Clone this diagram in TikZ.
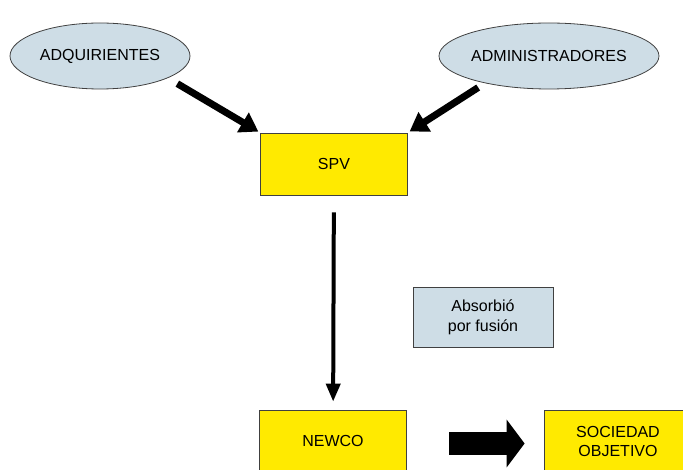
\documentclass[tikz,border=0pt]{standalone}
\usepackage{fontspec}
\setmainfont{Liberation Sans}
\usetikzlibrary{arrows.meta,shapes.geometric}
\definecolor{amarillo}{RGB}{255,234,0}
\definecolor{celeste}{RGB}{206,221,230}
\definecolor{borde}{RGB}{64,64,64}

\begin{document}
\begin{tikzpicture}[x=1pt,y=1pt,font=\fontsize{16}{19}\selectfont,
    elipse/.style={ellipse,draw=borde,fill=celeste,line width=0.8pt,
      minimum width=180pt,minimum height=66pt,inner sep=0pt},
    caja/.style={draw=borde,fill=amarillo,line width=0.8pt,align=center,
      minimum width=147pt,minimum height=62pt,inner sep=0pt},
    gruesa/.style={line width=7pt,-{Triangle[length=18pt,width=22pt]}},
    fina/.style={line width=4pt,-{Triangle[length=18pt,width=14pt]}},
    bloque/.style={line width=23pt,-{Triangle[length=18pt,width=47pt]}}]
      \useasboundingbox (0,0) rectangle (683,469);
      \node[elipse] (adq) at (100,413) {ADQUIRIENTES};
      \node[elipse] (adm) at (549,413) {ADMINISTRADORES};
      \node[caja] (spv) at (334,305) {SPV};
      \node[caja] (newco) at (333,28) {NEWCO};
      \node[caja] (soc) at (618,28) {SOCIEDAD\\OBJETIVO};
      \node[draw=borde,fill=celeste,line width=0.8pt,align=center,
        minimum width=140pt,minimum height=60pt,font=\fontsize{16}{20}\selectfont]
        (fusion) at (483,152) {Absorbió\\por fusión};
      \draw[gruesa,shorten <=11pt,shorten >=2pt] (adq.-18) -- (spv.north west);
      \draw[gruesa,shorten <=8pt,shorten >=2pt] (adm.-157) -- (spv.north east);
      \draw[fina,shorten <=17pt,shorten >=8pt] (spv) -- (newco);
      \draw[bloque,shorten <=42.5pt,shorten >=19.5pt]
        ([yshift=-2.5pt]newco.east) -- ([yshift=-2.5pt]soc.west);
    \end{tikzpicture}
\end{document}
